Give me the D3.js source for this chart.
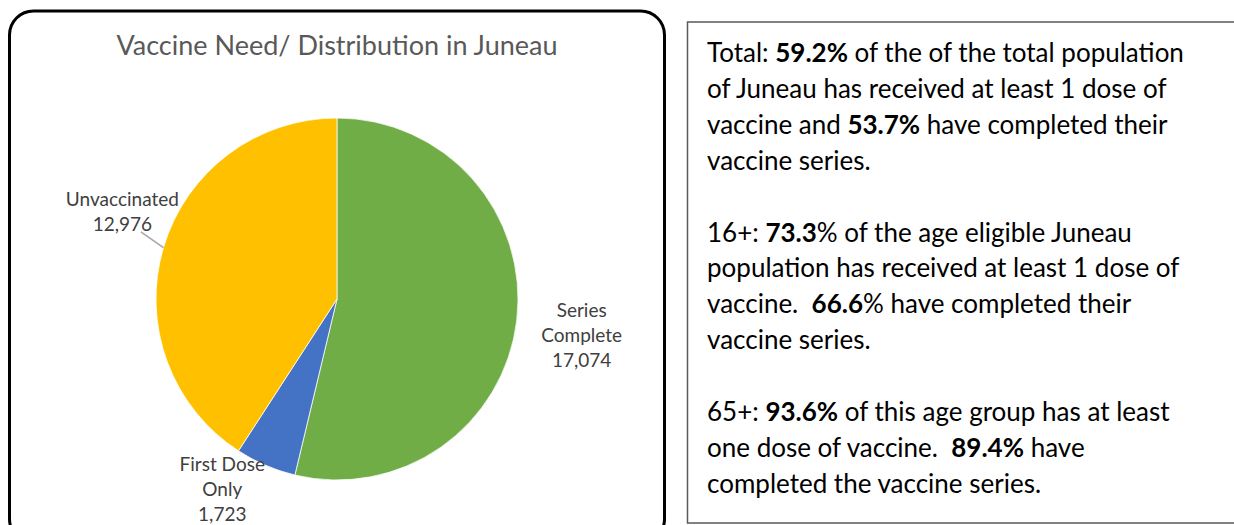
<!DOCTYPE html>
<html>
<head>
<meta charset="utf-8">
<script src="https://cdn.jsdelivr.net/npm/d3@7"></script>
<style>
  body { margin: 0; background: #fff; }
  svg { display: block; font-family: Lato, "Open Sans", sans-serif; }
</style>
</head>
<body>
<div id="chart"></div>
<script>
// pie data
const categories = ['Series Complete', 'First Dose Only', 'Unvaccinated'];
const values = [17074, 1723, 12976];
const labelLines = [['Series', 'Complete'], ['First Dose', 'Only'], ['Unvaccinated']];
const colors = ['#70AD47', '#4472C4', '#FFC000'];
const chartTitle = 'Vaccine Need/ Distribution in Juneau';

// summary text, [text, bold]
const summaryLines = [
  [['Total: ', false], ['59.2%', true], [' of the of the total population', false]],
  [['of Juneau has received at least 1 dose of', false]],
  [['vaccine and ', false], ['53.7%', true], [' have completed their', false]],
  [['vaccine series.', false]],
  [],
  [['16+: ', false], ['73.3', true], ['% of the age eligible Juneau', false]],
  [['population has received at least 1 dose of', false]],
  [['vaccine.  ', false], ['66.6', true], ['% have completed their', false]],
  [['vaccine series.', false]],
  [],
  [['65+: ', false], ['93.6%', true], [' of this age group has at least', false]],
  [['one dose of vaccine.  ', false], ['89.4%', true], [' have', false]],
  [['completed the vaccine series.', false]]
];

const width = 1234;
const height = 525;

const svg = d3.select('#chart').append('svg')
  .attr('width', width)
  .attr('height', height);

// left panel frame
svg.append('rect')
  .attr('x', 9.5).attr('y', 11)
  .attr('width', 655).attr('height', 532)
  .attr('rx', 24)
  .attr('fill', 'none')
  .attr('stroke', '#000')
  .attr('stroke-width', 3);

svg.append('text')
  .attr('x', 337).attr('y', 55)
  .attr('text-anchor', 'middle')
  .attr('fill', '#595959')
  .style('font-size', '27px')
  .text(chartTitle);

const cx = 337;
const cy = 299;
const radius = 181;

const pie = d3.pie().sort(null).value(d => d);
const arcs = pie(values);
const arc = d3.arc().innerRadius(0).outerRadius(radius);

const gPie = svg.append('g').attr('transform', `translate(${cx},${cy})`);

gPie.selectAll('path.slice')
  .data(arcs)
  .enter()
  .append('path')
  .attr('class', 'slice')
  .attr('d', arc)
  .attr('fill', (d, i) => colors[i])
  .attr('stroke', '#fff')
  .attr('stroke-width', 0.75);

// data labels
const fmt = d3.format(',');
const labelArc = d3.arc().innerRadius(radius * 1.3).outerRadius(radius * 1.3);
const labelNudge = [[11, 9], [-22, -26], [11, -20]];
const lineH = 25;

const labels = gPie.selectAll('text.lbl')
  .data(arcs)
  .enter()
  .append('text')
  .attr('class', 'lbl')
  .attr('text-anchor', 'middle')
  .attr('fill', '#404040')
  .style('font-size', '19px')
  .attr('transform', (d, i) => {
    const c = labelArc.centroid(d);
    return `translate(${c[0] + labelNudge[i][0]},${c[1] + labelNudge[i][1]})`;
  });

labels.each(function (d, i) {
  const lines = labelLines[i].concat([fmt(values[i])]);
  const t = d3.select(this);
  lines.forEach((ln, k) => {
    t.append('tspan')
      .attr('x', 0)
      .attr('y', (k - (lines.length - 1) / 2) * lineH)
      .attr('dy', '0.35em')
      .text(ln);
  });
});

// leader line for Unvaccinated
const leaderIdx = categories.indexOf('Unvaccinated');
const la = (arcs[leaderIdx].startAngle + arcs[leaderIdx].endAngle) / 2;
gPie.append('line')
  .attr('x1', Math.sin(la) * radius)
  .attr('y1', -Math.cos(la) * radius)
  .attr('x2', Math.sin(la) * radius * 1.13)
  .attr('y2', -Math.cos(la) * radius * 1.13 - 9)
  .attr('stroke', '#a6a6a6')
  .attr('stroke-width', 1.5);

// right panel
svg.append('rect')
  .attr('x', 687.5).attr('y', 22)
  .attr('width', 600).attr('height', 501)
  .attr('fill', 'none')
  .attr('stroke', '#595959')
  .attr('stroke-width', 1.5);

const gText = svg.append('g');
summaryLines.forEach((segs, i) => {
  if (!segs.length) return;
  const t = gText.append('text')
    .attr('x', 707)
    .attr('y', 62 + i * 35.9)
    .attr('fill', '#000')
    .style('font-size', '26px');
  segs.forEach(s => {
    t.append('tspan')
      .attr('font-weight', s[1] ? 'bold' : 'normal')
      .style('white-space', 'pre')
      .text(s[0]);
  });
});
</script>
</body>
</html>
